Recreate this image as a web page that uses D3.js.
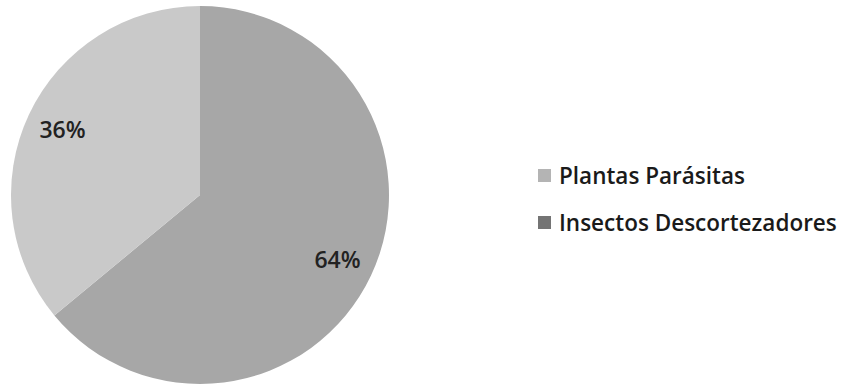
<!DOCTYPE html>
<html><head><meta charset="utf-8">
<script src="https://cdn.jsdelivr.net/npm/d3@7"></script>
<style>body{margin:0;background:#fff}svg{display:block}</style>
</head><body>
<script>
const categories = ["Insectos Descortezadores", "Plantas Parásitas"];
const values = [64, 36];
const labels = ["64%", "36%"];
const legendOrder = ["Plantas Parásitas", "Insectos Descortezadores"];

const W = 841, H = 385;
const cx = 200, cy = 195, R = 189;
const sliceColor = d3.scaleOrdinal().domain(categories).range(["#a7a7a7", "#c9c9c9"]);
const legendColor = d3.scaleOrdinal().domain(categories).range(["#747474", "#b4b4b4"]);

const svg = d3.select("body").append("svg").attr("width", W).attr("height", H);
const g = svg.append("g").attr("transform", `translate(${cx},${cy})`);
const data = categories.map((c, i) => ({c, v: values[i], l: labels[i]}));
const pie = d3.pie().value(d => d.v).sort(null);
const arc = d3.arc().innerRadius(0).outerRadius(R);
const labelArc = d3.arc().innerRadius(152).outerRadius(152);
const arcs = pie(data);
g.selectAll("path").data(arcs).join("path")
  .attr("d", arc).attr("fill", d => sliceColor(d.data.c));
g.selectAll("text").data(arcs).join("text")
  .attr("transform", d => `translate(${labelArc.centroid(d)})`)
  .attr("text-anchor", "middle").attr("dy", "0.35em")
  .attr("font-family", "Open Sans").attr("font-size", 23).attr("font-weight", 600)
  .attr("fill", "#222").text(d => d.data.l);

const y = d3.scalePoint().domain(legendOrder).range([176, 223]);
const lg = svg.append("g");
const items = lg.selectAll("g").data(legendOrder).join("g")
  .attr("transform", d => `translate(538,${y(d)})`);
items.append("rect").attr("x", 0).attr("y", -7).attr("width", 13).attr("height", 13)
  .attr("fill", d => legendColor(d));
items.append("text").attr("x", 21).attr("dy", "0.36em")
  .attr("font-family", "Open Sans").attr("font-size", 22.5).attr("font-weight", 600)
  .attr("fill", "#1a1a1a").text(d => d);
</script>
</body></html>
